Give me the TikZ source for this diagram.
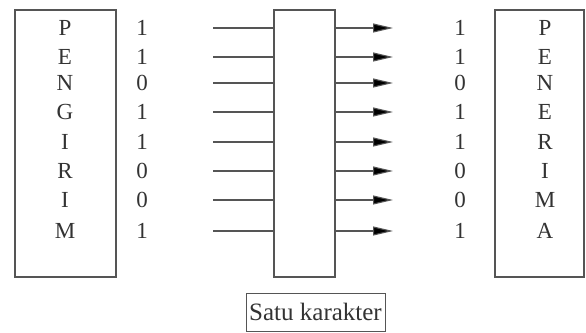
\documentclass[tikz,border=0pt]{standalone}
\usepackage{fontspec}
\setmainfont{Liberation Serif}
\usetikzlibrary{arrows.meta}
\definecolor{ink}{HTML}{333333}
\definecolor{edge}{HTML}{555555}
\tikzset{
  box/.style={draw=edge, line width=1.2pt, fill=white, inner sep=0pt},
  glyph/.style={text=ink, font=\fontsize{23}{23}\selectfont, inner sep=0pt, anchor=center},
  wire/.style={draw=edge, line width=1.1pt},
  arrowwire/.style={draw=edge, line width=1.1pt, -{Triangle[length=20pt,width=9pt,fill=black]}},
}
\begin{document}
\begin{tikzpicture}[x=1pt,y=1pt]
\useasboundingbox (0,0) rectangle (586,332);
% boxes
\node[box, minimum width=101pt, minimum height=267pt] (send) at (65.5,188.5) {};
\node[box, minimum width=61pt, minimum height=267pt] (mid) at (304.5,188.5) {};
\node[box, minimum width=89pt, minimum height=267pt] (recv) at (539.5,188.5) {};
\node[draw=edge, line width=1pt, inner xsep=2pt, inner sep=0pt, minimum width=139pt, minimum height=38pt, text=ink, font=\fontsize{25}{25}\selectfont] (label) at (315.5,20) {Satu karakter};
% rows
\foreach \i/\y/\sl/\b/\rl in {1/28/P/1/P,2/57/E/1/E,3/83/N/0/N,4/112/G/1/E,5/142/I/1/R,6/171/R/0/I,7/200/I/0/M,8/231/M/1/A}{
  \pgfmathsetmacro{\yy}{332-\y}
  \node[glyph] (sl\i) at (65,\yy) {\sl};
  \node[glyph] (sb\i) at (142,\yy) {\b};
  \node[glyph] (rb\i) at (460,\yy) {\b};
  \node[glyph] (rl\i) at (545,\yy) {\rl};
  \coordinate (in\i) at (213,\yy);
  \coordinate (out\i) at (393,\yy);
  \draw[wire] (in\i) -- (in\i -| mid.west);
  \draw[arrowwire] (out\i -| mid.east) -- (out\i);
}
\end{tikzpicture}
\end{document}
